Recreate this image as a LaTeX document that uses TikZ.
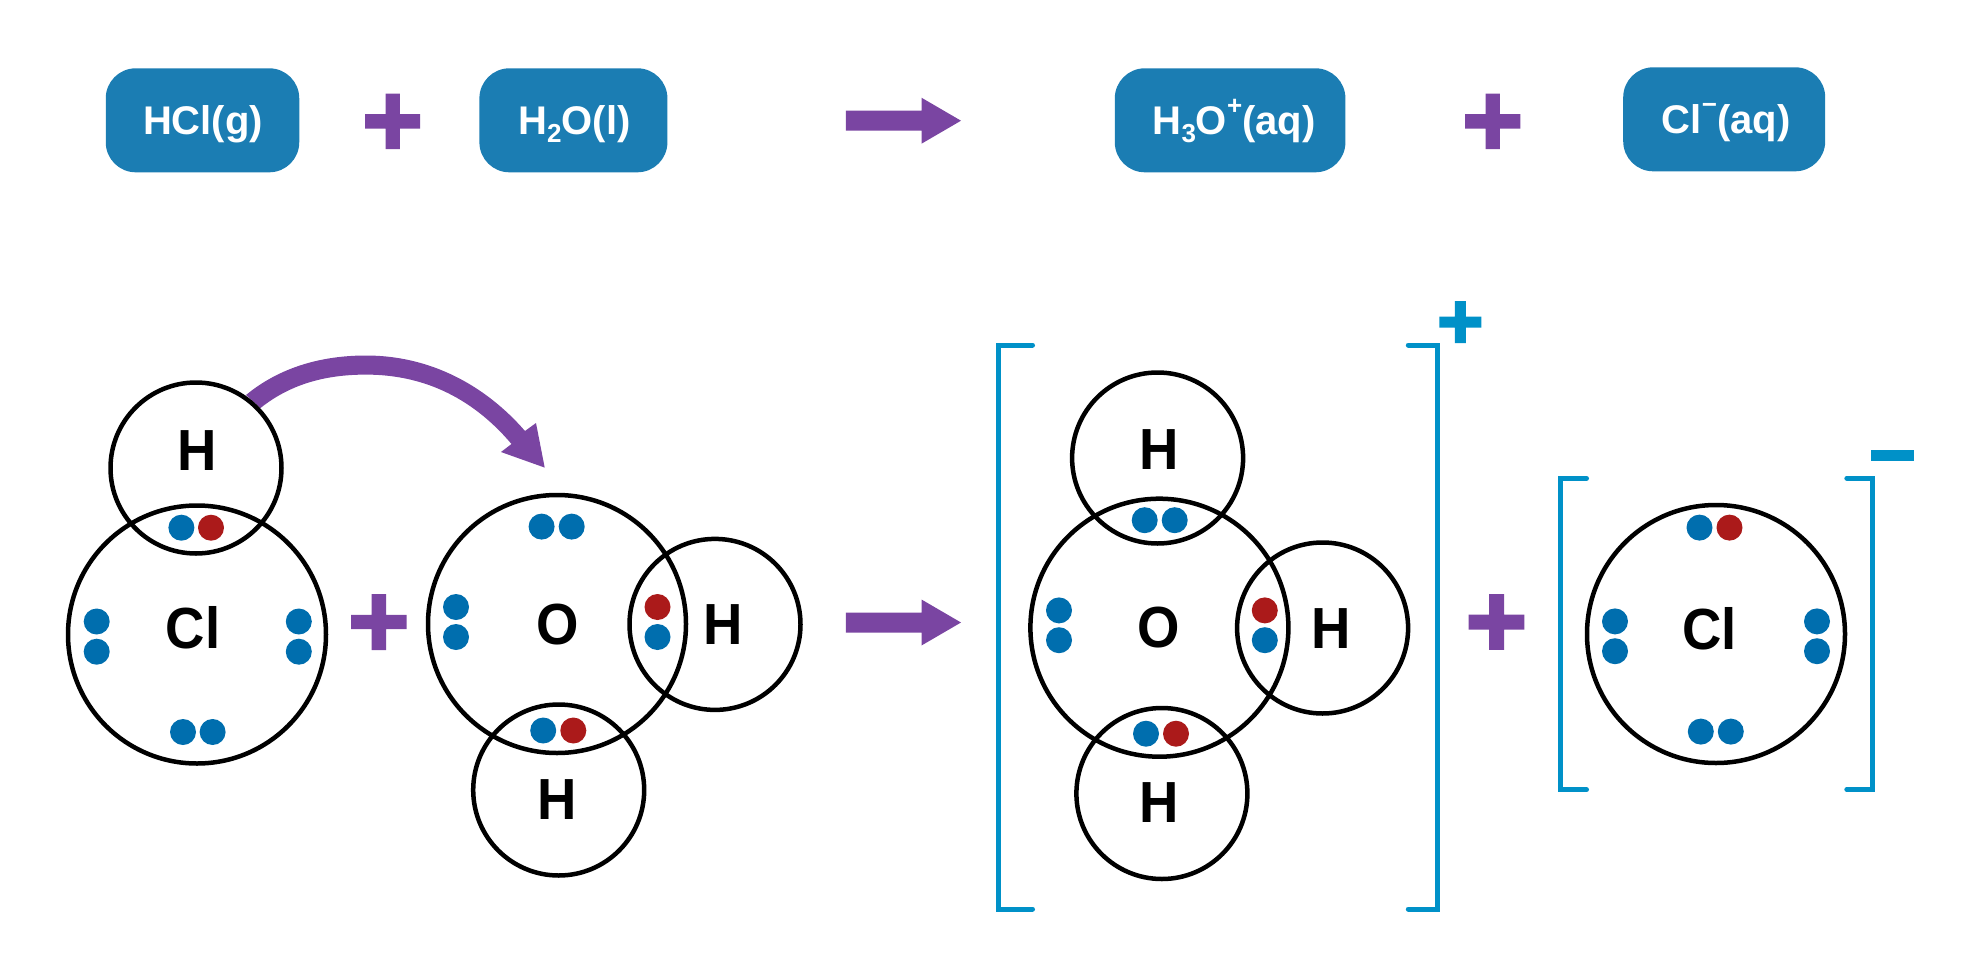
\documentclass[tikz,border=0pt]{standalone}
\usepackage{fontspec}
\setmainfont{Liberation Sans}
\newfontfamily\symfont[FakeStretch=0.94]{Liberation Sans}
\definecolor{boxblue}{HTML}{1B7DB3}
\definecolor{purp}{HTML}{7A45A2}
\definecolor{dotblue}{HTML}{006EAE}
\definecolor{dotred}{HTML}{AB1A1A}
\definecolor{brk}{HTML}{0091C8}
\newcommand{\lsub}[1]{\raisebox{-8pt}{\fontsize{26}{26}\selectfont #1}}
\newcommand{\lsup}[1]{\raisebox{20pt}{\fontsize{26}{26}\selectfont #1}}
\newcommand{\plusmark}[6]{\fill[#1] ({#2-#4},{#3-#6}) rectangle ({#2+#4},{#3+#6}) ({#2-#6},{#3-#5}) rectangle ({#2+#6},{#3+#5});}
\newcommand{\blockarrow}[2]{\fill[purp] ({#1},{#2-10}) -- ({#1+75.7},{#2-10}) -- ({#1+75.7},{#2-23}) -- ({#1+115.2},{#2}) -- ({#1+75.7},{#2+23}) -- ({#1+75.7},{#2+10}) -- ({#1},{#2+10}) -- cycle;}
\tikzset{
  chem/.style={rounded corners=30pt,fill=boxblue,text=white,inner sep=0pt,font=\fontsize{40}{44}\selectfont\bfseries,text height=38pt,text depth=10pt,minimum height=104pt},
  hatom/.style={circle,draw=black,line width=4.5pt,minimum size=171pt,inner sep=0pt},
  bigatom/.style={circle,draw=black,line width=4.5pt,minimum size=258pt,inner sep=0pt},
  sym/.style={inner sep=0pt,font=\fontsize{58}{60}\symfont\selectfont\bfseries},
  bd/.style={circle,fill=dotblue,minimum size=26pt,inner sep=0pt},
  rd/.style={circle,fill=dotred,minimum size=26pt,inner sep=0pt},
  brack/.style={draw=brk,line width=5pt,line cap=round,miter limit=10},
}
\begin{document}
\begin{tikzpicture}[x=1pt,y=-1pt]
\useasboundingbox (0,0) rectangle (1982,980);
% top row
\node[chem,minimum width=193.5pt] (hclbox) at (202.5,120.3) {\hspace{1pt}HCl(g)};
\node[chem,minimum width=188pt] (h2obox) at (573.4,120.3) {\hspace{2pt}H\lsub{2}O(l)};
\node[chem,minimum width=230.6pt] (h3obox) at (1230.1,120.3) {\hspace{8pt}H\lsub{3}O\lsup{+}(aq)};
\node[chem,minimum width=202pt] (clbox) at (1724.2,119.3) {\hspace{4pt}Cl\lsup{−}(aq)};
\plusmark{purp}{392.7}{121.3}{27.5}{27.7}{7.2}
\plusmark{purp}{1492.7}{121.3}{27.7}{27.7}{7.2}
\blockarrow{845.8}{120.7}
\blockarrow{845.8}{622.5}
% curved arrow
\fill[purp] (246,395) .. controls (280,367) and (322,355.5) .. (366,355.5)
  .. controls (430,355.5) and (485,385) .. (525,431)
  -- (536,423) -- (544.7,467.6) -- (501,452) -- (511.5,444)
  .. controls (470,395) and (420,374.6) .. (366,374.6)
  .. controls (330,374.6) and (293,382) .. (260.5,408) -- cycle;
% left molecules
\node[hatom] (h1) at (196,468) {};
\node[bigatom] (cl1) at (197,634.5) {};
\node[sym] (h1t) at (197,451) {H};
\node[sym] (cl1t) at (193,628) {Cl};
\node[bd] (d1) at (181.4,527.7) {};
\node[rd] (d2) at (211,527.7) {};
\node[bd] (d3) at (96.7,621.5) {};
\node[bd] (d4) at (96.7,651.7) {};
\node[bd] (d5) at (298.8,621.5) {};
\node[bd] (d6) at (298.8,651.7) {};
\node[bd] (d7) at (183,732) {};
\node[bd] (d8) at (212.6,732) {};
\plusmark{purp}{378.8}{622}{27.7}{28}{7.2}
\node[bigatom] (o1) at (557,624) {};
\node[hatom] (h2) at (715,624.4) {};
\node[hatom] (h3) at (558.7,790) {};
\node[sym] (o1t) at (558,624.5) {O};
\node[sym] (h2t) at (723,625) {H};
\node[sym] (h3t) at (557.5,800) {H};
\node[bd] (e1) at (541.6,526.6) {};
\node[bd] (e2) at (571.7,526.6) {};
\node[bd] (e3) at (456,607) {};
\node[bd] (e4) at (456,637) {};
\node[rd] (e5) at (657.5,607) {};
\node[bd] (e6) at (657.5,637) {};
\node[bd] (e7) at (543.2,730.5) {};
\node[rd] (e8) at (573.3,730.5) {};
% hydronium
\draw[brack] (1032.5,345) -- (998.4,345) -- (998.4,909) -- (1032.5,909);
\draw[brack] (1408.3,345) -- (1437.4,345) -- (1437.4,909) -- (1408.3,909);
\plusmark{brk}{1460.4}{322}{21}{21}{5.5}
\node[hatom] (h4) at (1157.6,458) {};
\node[bigatom] (o2) at (1159.4,627.7) {};
\node[hatom] (h5) at (1322.6,628) {};
\node[hatom] (h6) at (1161.9,793.5) {};
\node[sym] (h4t) at (1158.8,450) {H};
\node[sym] (o2t) at (1158.8,628) {O};
\node[sym] (h5t) at (1331.5,628.8) {H};
\node[sym] (h6t) at (1158.8,803) {H};
\node[bd] (f1) at (1144.7,520.2) {};
\node[bd] (f2) at (1174.7,520.2) {};
\node[bd] (f3) at (1059,610.4) {};
\node[bd] (f4) at (1059,640.2) {};
\node[rd] (f5) at (1264.8,610.4) {};
\node[bd] (f6) at (1264.8,640.2) {};
\node[bd] (f7) at (1146,733.7) {};
\node[rd] (f8) at (1176,733.7) {};
\plusmark{purp}{1496.5}{622}{27.8}{27.8}{7.5}
% chloride
\draw[brack] (1586.5,478.2) -- (1560.5,478.2) -- (1560.5,789.6) -- (1586.5,789.6);
\draw[brack] (1846.8,478.2) -- (1872.8,478.2) -- (1872.8,789.6) -- (1846.8,789.6);
\fill[brk] (1871,450.4) rectangle (1914,460.6);
\node[bigatom] (cl2) at (1716,634) {};
\node[sym] (cl2t) at (1709.5,628.8) {Cl};
\node[bd] (g1) at (1699.5,527.6) {};
\node[rd] (g2) at (1729.5,527.6) {};
\node[bd] (g3) at (1615,621.4) {};
\node[bd] (g4) at (1615,651.2) {};
\node[bd] (g5) at (1817,621.4) {};
\node[bd] (g6) at (1817,651.2) {};
\node[bd] (g7) at (1700.8,731.6) {};
\node[bd] (g8) at (1730.8,731.6) {};
\end{tikzpicture}
\end{document}
